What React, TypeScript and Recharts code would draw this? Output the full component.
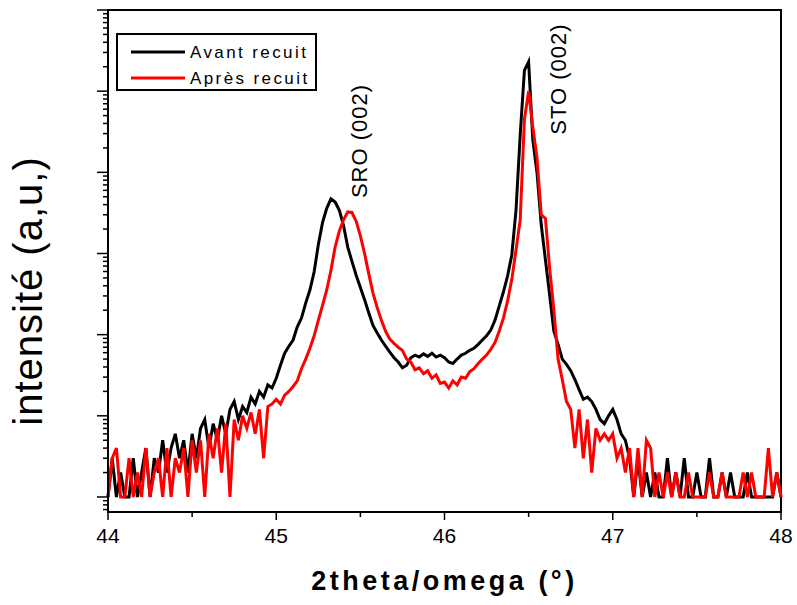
import { LineChart, Line, XAxis, YAxis, ReferenceArea, ReferenceDot } from 'recharts';

// 2theta (deg), step 0.025
const THETA = [
  44, 44.025, 44.05, 44.075, 44.1, 44.125, 44.15, 44.175, 44.2, 44.225, 44.25, 44.275, 44.3, 44.325, 44.35, 44.375, 44.4, 44.425, 44.45, 44.475,
  44.5, 44.525, 44.55, 44.575, 44.6, 44.625, 44.65, 44.675, 44.7, 44.725, 44.75, 44.775, 44.8, 44.825, 44.85, 44.875, 44.9, 44.925, 44.95, 44.975,
  45, 45.025, 45.05, 45.075, 45.1, 45.125, 45.15, 45.175, 45.2, 45.225, 45.25, 45.275, 45.3, 45.325, 45.35, 45.375, 45.4, 45.425, 45.45, 45.475,
  45.5, 45.525, 45.55, 45.575, 45.6, 45.625, 45.65, 45.675, 45.7, 45.725, 45.75, 45.775, 45.8, 45.825, 45.85, 45.875, 45.9, 45.925, 45.95, 45.975,
  46, 46.025, 46.05, 46.075, 46.1, 46.125, 46.15, 46.175, 46.2, 46.225, 46.25, 46.275, 46.3, 46.325, 46.35, 46.375, 46.4, 46.425, 46.45, 46.475,
  46.5, 46.525, 46.55, 46.575, 46.6, 46.625, 46.65, 46.675, 46.7, 46.725, 46.75, 46.775, 46.8, 46.825, 46.85, 46.875, 46.9, 46.925, 46.95, 46.975,
  47, 47.025, 47.05, 47.075, 47.1, 47.125, 47.15, 47.175, 47.2, 47.225, 47.25, 47.275, 47.3, 47.325, 47.35, 47.375, 47.4, 47.425, 47.45, 47.475,
  47.5, 47.525, 47.55, 47.575, 47.6, 47.625, 47.65, 47.675, 47.7, 47.725, 47.75, 47.775, 47.8, 47.825, 47.85, 47.875, 47.9, 47.925, 47.95, 47.975,
  48,
];

// Avant recuit (counts)
const AVANT = [
  1, 3, 1, 2, 1, 1, 3, 1, 2, 4, 1, 3, 2, 5, 2, 4, 6, 3, 5, 2,
  6, 3, 7, 9, 4, 8, 5, 10, 6, 12, 15, 9, 13, 11, 17, 14, 20, 17, 24, 22,
  29, 42, 59, 72, 86, 125, 160, 245, 355, 590, 1280, 2400, 3600, 4700, 4300, 3400, 2200, 1200, 800, 540,
  380, 270, 185, 130, 105, 86, 72, 61, 52, 46, 39, 42, 52, 56, 53, 58, 54, 59, 53, 56,
  52, 46, 44, 50, 56, 59, 64, 68, 76, 86, 97, 114, 150, 225, 335, 530, 960, 3400, 29000, 180000,
  230000, 25000, 9800, 2260, 830, 308, 110, 76, 50, 43, 36, 28, 21, 16, 17, 15, 12, 9, 8, 10,
  12, 9, 6, 5, 3, 1, 3, 1, 2, 1, 2, 1, 1, 3, 1, 2, 1, 3, 1, 1,
  2, 1, 1, 3, 1, 1, 2, 1, 2, 1, 1, 1, 2, 1, 1, 1, 1, 1, 1, 2,
  1,
];

// Après recuit (counts)
const APRES = [
  1, 3, 4, 1, 1, 3, 1, 2, 1, 4, 1, 2, 3, 1, 4, 1, 3, 2, 4, 1,
  5, 2, 5, 1, 6, 3, 7, 2, 8, 1, 9, 5, 10, 7, 11, 6, 12, 3, 13, 14,
  16, 14, 18, 20, 23, 27, 38, 50, 68, 96, 150, 230, 355, 620, 1200, 1900, 2600, 3250, 3200, 2500,
  1650, 1000, 560, 325, 215, 150, 110, 88, 78, 70, 64, 50, 46, 37, 39, 33, 36, 29, 32, 25,
  26, 22, 27, 24, 30, 29, 35, 38, 44, 50, 56, 66, 80, 110, 160, 260, 480, 1100, 2600, 45000,
  100000, 36000, 15000, 3000, 2700, 650, 200, 50, 28, 15, 12, 4, 12, 3, 9, 2, 7, 5, 6, 5,
  6, 3, 4, 2, 4, 1, 4, 1, 5, 4, 1, 2, 1, 2, 1, 2, 1, 1, 2, 1,
  1, 1, 1, 2, 1, 1, 2, 1, 1, 1, 1, 2, 1, 2, 1, 1, 1, 4, 1, 2,
  1,
];

const X_TICKS = [44, 44.5, 45, 45.5, 46, 46.5, 47, 47.5, 48];
const DECADES = [1, 10, 100, 1000, 10000, 100000];
const MINORS = [2, 3, 4, 5, 6, 7, 8, 9];
const BELOW_ONE = [0.7, 0.8, 0.9];
const Y_TICKS = [...BELOW_ONE, ...DECADES.flatMap((d) => [d, ...MINORS.map((m) => m * d)]), 1000000];
const Y_DOMAIN = [0.653, 1000000];

const SERIES = [
  { key: 'avant', name: 'Avant recuit', color: '#000000' },
  { key: 'apres', name: 'Après recuit', color: '#ff0000' },
];

const PEAKS = [
  { label: 'SRO (002)', theta: 45.54, intensity: 24300 },
  { label: 'STO (002)', theta: 46.72, intensity: 141000 },
];

const data = THETA.map((t, i) => ({ theta: t, avant: AVANT[i], apres: APRES[i] }));

const FONT = '"Liberation Sans", Arial, sans-serif';

const YTick = ({ x, y, payload }: any) => {
  const lg = Math.log10(payload.value);
  const major = Math.abs(lg - Math.round(lg)) < 1e-6;
  return <line x1={ x - (major ? 11 : 5) } x2={ x } y1={ y } y2={ y } stroke="#000" strokeWidth={ 1.5 } />;
};

const XTick = ({ x, y, payload }: any) => {
  const major = Number.isInteger(payload.value);
  return (
    <g>
      <line x1={ x } x2={ x } y1={ y } y2={ y + (major ? 8 : 5) } stroke="#000" strokeWidth={ 1.5 } />
      { major && (
        <text x={ x } y={ y + 31 } textAnchor="middle" fontSize={ 21 } fontFamily={ FONT } fill="#000">
          { payload.value }
        </text>
      ) }
    </g>
  );
};

const XTitle = ({ viewBox }: any) => {
  const vb = viewBox || { x: 108, y: 512, width: 673 };
  return (
    <text x={ vb.x + vb.width / 2 } y={ vb.y + 78 } textAnchor="middle" fontSize={ 27 } fontWeight="bold"
      letterSpacing={ 3.5 } fontFamily={ FONT } fill="#000">
      2theta/omega (°)
    </text>
  );
};

const YTitle = ({ viewBox }: any) => {
  const vb = viewBox || { y: 10, height: 502 };
  const cx = 42;
  const cy = vb.y + vb.height / 2 + 30;
  return (
    <text x={ cx } y={ cy } transform={ `rotate(-90 ${cx} ${cy})` } textAnchor="middle" fontSize={ 40 }
      letterSpacing={ 1 } fontFamily={ FONT } fill="#000">
      intensité (a,u,)
    </text>
  );
};

const PeakText = ({ viewBox, text }: any) => {
  const cx = viewBox.x + (viewBox.width || 0) / 2;
  const cy = viewBox.y + (viewBox.height || 0) / 2;
  return (
    <text x={ cx } y={ cy } transform={ `rotate(-90 ${cx} ${cy})` } textAnchor="middle" fontSize={ 22 }
      letterSpacing={ 1 } fontFamily={ FONT } fill="#000">
      { text }
    </text>
  );
};

const LegendBox = () => (
  <svg width={ 201 } height={ 58 } style={ { position: 'absolute', left: 116, top: 33 } }>
    <rect x={ 1 } y={ 1 } width={ 199 } height={ 56 } fill="#fff" stroke="#000" strokeWidth={ 2 } />
    { SERIES.map((s, i) => (
      <g key={ s.key }>
        <line x1={ 15 } x2={ 69 } y1={ 19 + i * 26 } y2={ 19 + i * 26 } stroke={ s.color } strokeWidth={ 3 } />
        <text x={ 74 } y={ 25 + i * 26 } fontSize={ 17 } letterSpacing={ 2.4 } fontFamily={ FONT } fill="#000">
          { s.name }
        </text>
      </g>
    )) }
  </svg>
);

const App = () => (
  <div style={ { position: 'absolute', left: 0, top: 0, width: 797, height: 605, background: '#fff' } }>
    <LineChart width={ 797 } height={ 605 } data={ data } margin={ { top: 10, right: 16, bottom: 0, left: 0 } }>
      <XAxis dataKey="theta" type="number" domain={ [44, 48] } ticks={ X_TICKS } interval={ 0 } height={ 93 }
        tickSize={ 0 } tickMargin={ 0 } tickLine={ false } tick={ <XTick /> }
        axisLine={ { stroke: '#000', strokeWidth: 2 } } label={ <XTitle /> } />
      <YAxis type="number" scale="log" domain={ Y_DOMAIN } allowDataOverflow ticks={ Y_TICKS } interval={ 0 }
        width={ 108 } tickSize={ 0 } tickMargin={ 0 } tickLine={ false } tick={ <YTick /> }
        axisLine={ { stroke: '#000', strokeWidth: 2 } } label={ <YTitle /> } />
      <ReferenceArea x1={ 44 } x2={ 48 } y1={ Y_DOMAIN[0] } y2={ Y_DOMAIN[1] } fill="none" stroke="#000"
        strokeWidth={ 2 } ifOverflow="visible" />
      {
        SERIES.map((s) => (
          <Line key={ s.key } dataKey={ s.key } name={ s.name } type="linear" stroke={ s.color } strokeWidth={ 3 }
            dot={ false } isAnimationActive={ false } />
        ))
      }
      {
        PEAKS.map((p) => (
          <ReferenceDot key={ p.label } x={ p.theta } y={ p.intensity } r={ 0 } fill="none" stroke="none"
            label={ <PeakText text={ p.label } /> } />
        ))
      }
    </LineChart>
    <LegendBox />
  </div>
);

export default App;
